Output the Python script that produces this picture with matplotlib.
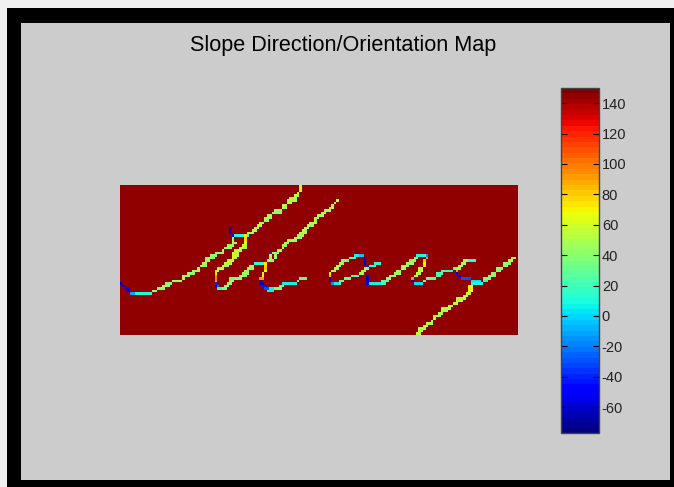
import numpy as np
import matplotlib
matplotlib.use('Agg')
import matplotlib.pyplot as plt
from matplotlib.patches import Rectangle

# Map data: every stroke is a list of runs (row, first column, last column, angle)
grid_rows = 60
grid_cols = 160
background = 145
vmin = -77
vmax = 150
cbar_ticks = [-60, -40, -20, 0, 20, 40, 60, 80, 100, 120, 140]
title = 'Slope Direction/Orientation Map'

stroke_long = [
    (39, 0, 0, -60), (40, 1, 1, -58), (41, 2, 3, -50), (42, 2, 3, -48), (43, 4, 5, -10), (43, 6, 12, 10),
    (42, 13, 14, 41), (41, 15, 17, 42), (40, 17, 19, 44), (39, 18, 20, 40), (38, 21, 24, 44),
    (37, 25, 25, 48), (36, 25, 27, 44), (35, 27, 29, 42), (34, 29, 31, 44), (33, 31, 31, 51),
    (32, 32, 34, 46), (31, 33, 34, 48), (30, 34, 35, 44), (29, 34, 37, 42), (28, 36, 38, 42),
    (27, 38, 41, 42), (26, 41, 41, 51), (25, 42, 44, 44), (24, 43, 45, 46), (23, 45, 46, 48),
    (22, 45, 45, 48), (21, 45, 45, 46), (20, 45, 45, -50), (19, 44, 44, -62), (18, 44, 44, -62),
    (17, 44, 44, -62), (20, 46, 49, 10), (20, 50, 51, 18), (19, 51, 53, 44), (18, 53, 54, 48),
    (17, 54, 55, 48), (16, 55, 56, 51), (15, 56, 57, 46), (14, 58, 59, 46), (13, 58, 60, 48),
    (12, 59, 60, 44), (11, 61, 64, 42), (10, 62, 64, 46), (9, 65, 66, 51), (8, 65, 66, 51),
    (7, 67, 68, 54), (6, 67, 70, 48), (5, 68, 70, 46), (4, 70, 71, 54), (3, 71, 71, 54),
    (2, 72, 72, 56), (1, 72, 72, 64), (0, 72, 72, 60),
]

stroke_loop = [
    (20, 50, 50, 72), (21, 50, 50, 78), (22, 50, 50, 75), (23, 50, 50, 68), (24, 49, 50, 56),
    (25, 48, 50, 51), (26, 46, 48, 54), (27, 45, 47, 56), (28, 45, 47, 58), (29, 45, 46, 56),
    (30, 43, 45, 51), (31, 42, 44, 54), (32, 41, 43, 48), (33, 39, 41, 51), (34, 38, 39, 54),
    (35, 38, 38, 70), (36, 38, 38, 95), (37, 38, 38, 100), (38, 38, 38, 92), (39, 38, 38, -40),
    (40, 38, 38, -62), (40, 39, 39, -25), (41, 39, 40, 12), (41, 41, 42, 38), (40, 42, 43, 41),
    (39, 43, 44, 41), (38, 44, 45, 44), (37, 44, 48, 40), (36, 48, 50, 44), (35, 49, 51, 46),
    (34, 50, 51, 46), (33, 51, 53, 46), (32, 52, 53, 44), (31, 54, 58, 12), (31, 58, 58, 72),
    (32, 58, 58, 78), (33, 58, 58, 80), (34, 58, 58, 68), (35, 57, 57, 62), (36, 57, 57, 68),
    (37, 56, 57, 90), (38, 56, 56, -60), (39, 56, 57, -58), (40, 57, 58, -45), (41, 58, 59, -30),
    (42, 59, 61, 6), (41, 60, 61, 8), (41, 62, 64, 38), (40, 64, 65, 28), (39, 65, 70, 8),
    (38, 71, 71, 36), (37, 72, 74, 28),
]

stroke_second = [
    (30, 59, 61, 42), (29, 60, 60, 44), (29, 62, 62, 44), (28, 60, 60, 44), (28, 62, 62, 44),
    (27, 60, 60, -40), (27, 61, 63, 41), (26, 63, 64, 48), (25, 65, 65, 48), (24, 65, 66, 46),
    (23, 66, 67, 46), (22, 67, 70, 44), (21, 70, 72, 44), (20, 71, 73, 46), (19, 72, 74, 48),
    (18, 73, 74, 48), (17, 74, 75, 48), (16, 75, 77, 46), (15, 76, 78, 48), (14, 78, 78, 51),
    (13, 78, 79, 46), (12, 79, 81, 48), (11, 81, 82, 48), (10, 82, 84, 44), (9, 84, 85, 51),
    (8, 85, 85, 51), (7, 86, 86, 54), (6, 87, 87, 56),
]

stroke_a = [
    (28, 94, 97, 8), (28, 96, 97, -5), (29, 92, 94, 20), (30, 89, 91, 38), (31, 88, 89, 44),
    (32, 87, 88, 46), (33, 86, 87, 46), (34, 85, 86, 48), (35, 84, 84, 62), (36, 84, 84, 85),
    (37, 84, 84, -55), (38, 84, 84, -60), (39, 85, 85, -15), (39, 86, 87, 8), (39, 88, 88, 25),
    (38, 88, 89, 28), (37, 90, 92, 28), (36, 93, 95, 25), (35, 96, 97, 44), (34, 97, 98, 46),
    (33, 98, 99, 48), (32, 99, 99, -45), (31, 98, 98, -60), (30, 98, 98, -62), (29, 98, 98, -55),
    (32, 100, 102, 15), (31, 102, 104, 12),
]

stroke_ally = [
    (36, 99, 99, -62), (37, 99, 99, -62), (38, 99, 99, -62), (39, 99, 99, -55), (39, 100, 104, 6),
    (38, 105, 107, 25), (39, 105, 106, 25), (37, 107, 108, 44), (36, 108, 110, 41), (35, 110, 112, 44),
    (34, 111, 112, 46), (33, 113, 114, 46), (32, 113, 115, 44), (31, 115, 117, 44), (30, 116, 118, 42),
    (29, 118, 119, 34), (28, 119, 122, 10), (28, 123, 123, -15), (29, 123, 123, 90), (30, 122, 122, 82),
    (31, 122, 122, 70), (32, 122, 122, 72), (33, 120, 121, 54), (34, 120, 121, 56), (35, 119, 120, 54),
    (36, 118, 119, 54), (37, 117, 117, 95), (38, 117, 117, -55), (39, 118, 121, 4), (38, 122, 122, 30),
    (37, 123, 126, 28), (36, 127, 128, 25), (35, 127, 129, 22), (34, 129, 133, 18), (33, 134, 135, 30),
    (34, 135, 135, 92), (35, 135, 135, -58), (36, 136, 136, -52), (37, 137, 140, -28), (38, 141, 144, 2),
    (39, 141, 145, 10),
]

stroke_y_top = [(33, 135, 136, 48), (32, 136, 137, 48), (31, 137, 138, 50), (30, 138, 139, 46), (30, 140, 142, 15)]

stroke_tail = [
    (40, 140, 141, 70), (41, 140, 141, 72), (42, 140, 141, 66), (43, 139, 140, 56), (44, 138, 139, 54),
    (45, 135, 138, 54), (46, 135, 137, 52), (47, 134, 135, 56), (48, 132, 133, 51), (49, 129, 132, 51),
    (50, 129, 131, 48), (51, 128, 129, 48), (52, 126, 128, 50), (53, 126, 126, 54), (54, 125, 125, 51),
    (55, 123, 125, 50), (56, 122, 123, 52), (57, 120, 122, 50), (58, 120, 121, 52), (59, 119, 120, 56),
]

stroke_end = [
    (38, 146, 147, 18), (37, 146, 148, 38), (36, 148, 150, 38), (35, 149, 150, 40), (34, 151, 152, 42),
    (33, 151, 153, 38), (32, 154, 155, 44), (31, 154, 156, 42), (30, 156, 157, 50), (29, 157, 158, 54),
]

strokes = [stroke_long, stroke_loop, stroke_second, stroke_a, stroke_ally, stroke_y_top, stroke_tail, stroke_end]

# figure size in pixels, helper for placing things by pixel
W, H = 674, 487
def box(x0, y0, x1, y1):
    return [x0 / W, 1 - y1 / H, (x1 - x0) / W, (y1 - y0) / H]

grid = np.full((grid_rows, grid_cols), float(background))
for stroke in strokes:
    for row, c0, c1, val in stroke:
        grid[row, c0:c1 + 1] = val

plt.rcParams['font.family'] = ['Liberation Sans', 'DejaVu Sans']
plt.rcParams['axes.unicode_minus'] = False
fig = plt.figure(figsize=(W / 100, H / 100), dpi=100, facecolor='#f0f0f0')

# window frame, behind the axes
fig.patches.append(Rectangle((7 / W, 0), 1 - 7 / W, 1 - 8 / H, transform=fig.transFigure,
                             fc='black', ec='none', zorder=-5))
fig.patches.append(Rectangle((21 / W, 1 - 480 / H), 649 / W, 457 / H, transform=fig.transFigure,
                             fc='#cccccc', ec='none', zorder=-4))

cmap = plt.get_cmap('jet', 64)

ax = fig.add_axes(box(120, 185, 518, 335))
im = ax.imshow(grid, cmap=cmap, vmin=vmin, vmax=vmax, aspect='auto', interpolation='nearest')
ax.axis('off')

cax = fig.add_axes(box(561, 88, 599, 433))
cbar = fig.colorbar(im, cax=cax, ticks=cbar_ticks)
cbar.outline.set_edgecolor('#444444')
cbar.outline.set_linewidth(1)
cax.tick_params(axis='y', direction='in', left=True, right=True, length=4, width=0.8,
                color='black', labelsize=10.5, labelcolor='#222222', pad=2)

fig.text(343.5 / W, 1 - 46 / H, title, ha='center', va='center', fontsize=15.6, color='black')

fig.savefig('out.png', dpi=100, facecolor=fig.get_facecolor())
